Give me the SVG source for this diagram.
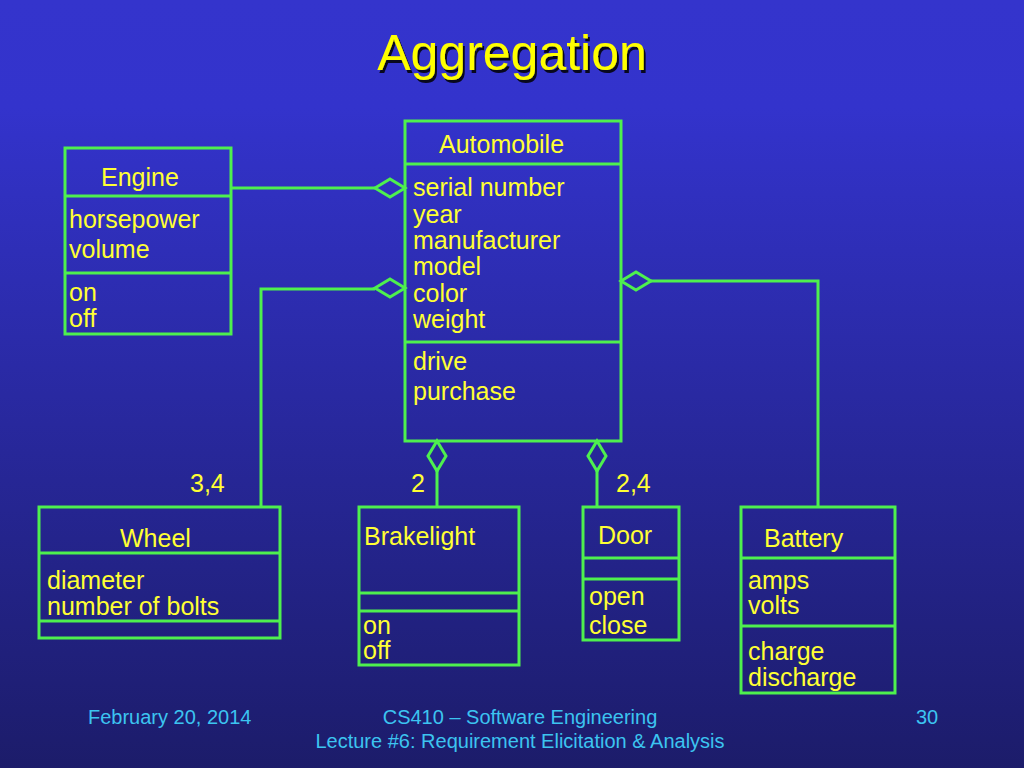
<svg xmlns="http://www.w3.org/2000/svg" width="1024" height="768" viewBox="0 0 1024 768">
<defs>
<linearGradient id="bg" x1="0" y1="0" x2="0" y2="1">
<stop offset="0" stop-color="#3434cc"/>
<stop offset="0.14" stop-color="#3333cc"/>
<stop offset="1" stop-color="#1c1c6a"/>
</linearGradient>
<filter id="sh" x="-5%" y="-5%" width="115%" height="130%">
<feDropShadow dx="2" dy="3" stdDeviation="0.6" flood-color="#000000" flood-opacity="0.85"/>
</filter>
</defs>
<style>
.box{fill:none;stroke:#4ef04e;stroke-width:3}
.ln{fill:none;stroke:#4ef04e;stroke-width:3}
.dm{fill:none;stroke:#4ef04e;stroke-width:3;stroke-linejoin:miter}
.t{font-family:"Liberation Sans",Arial,sans-serif;font-size:25px;fill:#ffff33}
.ti{font-family:"Liberation Sans",Arial,sans-serif;font-size:50px;fill:#ffff00}
.ft{font-family:"Liberation Sans",Arial,sans-serif;font-size:20px;fill:#3cc4f0}
</style>
<rect x="0" y="0" width="1024" height="768" fill="url(#bg)"/>
<text class="ti" x="512" y="70" text-anchor="middle" filter="url(#sh)">Aggregation</text>

<g id="connectors">
<path class="ln" d="M231,188 H375"/>
<path class="dm" d="M375,188 L390,179 L405,188 L390,197 Z"/>
<path class="ln" d="M375,289 H261 V507"/>
<path class="dm" d="M375,288 L390,279 L405,288 L390,297 Z"/>
<path class="ln" d="M651,281 H818 V507"/>
<path class="dm" d="M621,281 L636,272 L651,281 L636,290 Z"/>
<path class="ln" d="M437,471 V507"/>
<path class="dm" d="M437,441 L446,456 L437,471 L428,456 Z"/>
<path class="ln" d="M597,471 V507"/>
<path class="dm" d="M597,441 L606,456 L597,471 L588,456 Z"/>
<text class="t" x="190" y="492">3,4</text>
<text class="t" x="411" y="492">2</text>
<text class="t" x="616" y="492">2,4</text>
</g>

<g id="automobile">
<rect class="box" x="405" y="121" width="216" height="320"/>
<path class="ln" d="M405,164 H621 M405,342 H621"/>
<text class="t" x="439" y="153">Automobile</text>
<text class="t" x="413" y="196">serial number</text>
<text class="t" x="413" y="223">year</text>
<text class="t" x="413" y="249">manufacturer</text>
<text class="t" x="413" y="275">model</text>
<text class="t" x="413" y="302">color</text>
<text class="t" x="413" y="328">weight</text>
<text class="t" x="413" y="370">drive</text>
<text class="t" x="413" y="400">purchase</text>
</g>

<g id="engine">
<rect class="box" x="65" y="148" width="166" height="186"/>
<path class="ln" d="M65,196 H231 M65,273 H231"/>
<text class="t" x="101" y="186">Engine</text>
<text class="t" x="69" y="228">horsepower</text>
<text class="t" x="69" y="258">volume</text>
<text class="t" x="69" y="301">on</text>
<text class="t" x="69" y="327">off</text>
</g>

<g id="wheel">
<rect class="box" x="39" y="507" width="241" height="131"/>
<path class="ln" d="M39,553 H280 M39,621 H280"/>
<text class="t" x="120" y="547">Wheel</text>
<text class="t" x="47" y="589">diameter</text>
<text class="t" x="47" y="615">number of bolts</text>
</g>

<g id="brakelight">
<rect class="box" x="359" y="507" width="160" height="158"/>
<path class="ln" d="M359,593 H519 M359,611 H519"/>
<text class="t" x="364" y="545">Brakelight</text>
<text class="t" x="363" y="634">on</text>
<text class="t" x="363" y="659">off</text>
</g>

<g id="door">
<rect class="box" x="583" y="507" width="96" height="133"/>
<path class="ln" d="M583,558 H679 M583,579 H679"/>
<text class="t" x="598" y="544">Door</text>
<text class="t" x="589" y="605">open</text>
<text class="t" x="589" y="634">close</text>
</g>

<g id="battery">
<rect class="box" x="741" y="507" width="154" height="186"/>
<path class="ln" d="M741,558 H895 M741,626 H895"/>
<text class="t" x="764" y="547">Battery</text>
<text class="t" x="748" y="589">amps</text>
<text class="t" x="748" y="614">volts</text>
<text class="t" x="748" y="660">charge</text>
<text class="t" x="748" y="686">discharge</text>
</g>

<g id="footer">
<text class="ft" x="88" y="724">February 20, 2014</text>
<text class="ft" x="520" y="724" text-anchor="middle">CS410 – Software Engineering</text>
<text class="ft" x="520" y="748" text-anchor="middle">Lecture #6: Requirement Elicitation &amp; Analysis</text>
<text class="ft" x="916" y="724">30</text>
</g>
</svg>
